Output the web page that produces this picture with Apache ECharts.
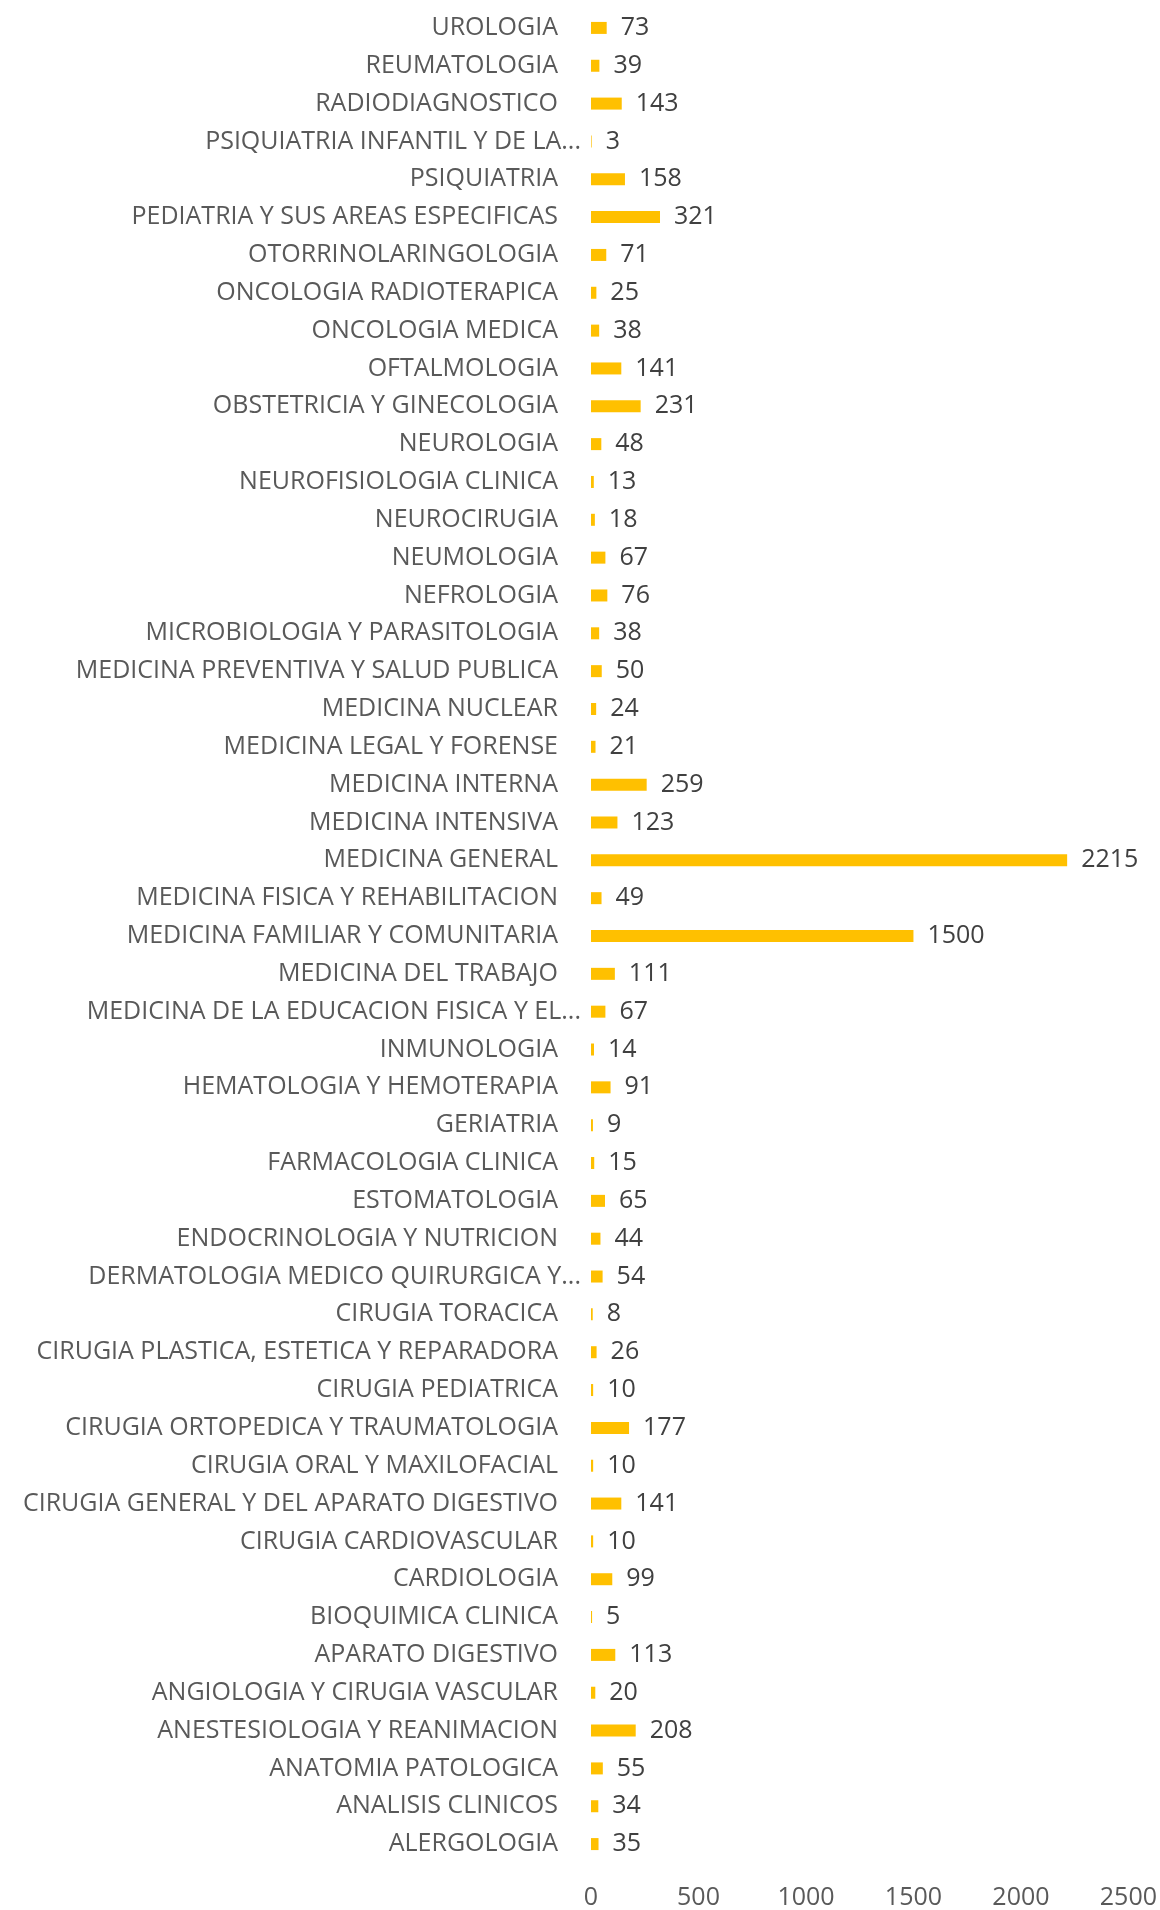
<!DOCTYPE html>
<html>
<head>
<meta charset="utf-8">
<script src="https://cdn.jsdelivr.net/npm/echarts@6/dist/echarts.min.js"></script>
<style>
  html, body { margin: 0; padding: 0; background: #fff; }
  #chart { width: 1160px; height: 1910px; }
</style>
</head>
<body>
<div id="chart"></div>
<script>
// categories listed bottom to top (category axis starts at the bottom)
var especialidades = [
  'ALERGOLOGIA', 'ANALISIS CLINICOS', 'ANATOMIA PATOLOGICA', 'ANESTESIOLOGIA Y REANIMACION',
  'ANGIOLOGIA Y CIRUGIA VASCULAR', 'APARATO DIGESTIVO', 'BIOQUIMICA CLINICA', 'CARDIOLOGIA',
  'CIRUGIA CARDIOVASCULAR', 'CIRUGIA GENERAL Y DEL APARATO DIGESTIVO', 'CIRUGIA ORAL Y MAXILOFACIAL',
  'CIRUGIA ORTOPEDICA Y TRAUMATOLOGIA', 'CIRUGIA PEDIATRICA', 'CIRUGIA PLASTICA, ESTETICA Y REPARADORA',
  'CIRUGIA TORACICA', 'DERMATOLOGIA MEDICO QUIRURGICA Y...', 'ENDOCRINOLOGIA Y NUTRICION',
  'ESTOMATOLOGIA', 'FARMACOLOGIA CLINICA', 'GERIATRIA', 'HEMATOLOGIA Y HEMOTERAPIA', 'INMUNOLOGIA',
  'MEDICINA DE LA EDUCACION FISICA Y EL...', 'MEDICINA DEL TRABAJO', 'MEDICINA FAMILIAR Y COMUNITARIA',
  'MEDICINA FISICA Y REHABILITACION', 'MEDICINA GENERAL', 'MEDICINA INTENSIVA', 'MEDICINA INTERNA',
  'MEDICINA LEGAL Y FORENSE', 'MEDICINA NUCLEAR', 'MEDICINA PREVENTIVA Y SALUD PUBLICA',
  'MICROBIOLOGIA Y PARASITOLOGIA', 'NEFROLOGIA', 'NEUMOLOGIA', 'NEUROCIRUGIA', 'NEUROFISIOLOGIA CLINICA',
  'NEUROLOGIA', 'OBSTETRICIA Y GINECOLOGIA', 'OFTALMOLOGIA', 'ONCOLOGIA MEDICA', 'ONCOLOGIA RADIOTERAPICA',
  'OTORRINOLARINGOLOGIA', 'PEDIATRIA Y SUS AREAS ESPECIFICAS', 'PSIQUIATRIA', 'PSIQUIATRIA INFANTIL Y DE LA...',
  'RADIODIAGNOSTICO', 'REUMATOLOGIA', 'UROLOGIA'
]
var totales = [
  35, 34, 55, 208,
  20, 113, 5, 99,
  10, 141, 10,
  177, 10, 26,
  8, 54, 44,
  65, 15, 9, 91, 14,
  67, 111, 1500,
  49, 2215, 123, 259,
  21, 24, 50,
  38, 76, 67, 18, 13,
  48, 231, 141, 38, 25,
  71, 321, 158, 3,
  143, 39, 73
]
var ejeX = { min: 0, max: 2500, interval: 500 }

// the cut-off names (ending in "...") sit closer to the bars, like Excel does
var categorias = especialidades.map(function(n) {
  if (n.slice(-3) === '...') {
    return { value: n, textStyle: { padding: [0, -23, 0, 0] } }
  }
  return n
})

var myChart = echarts.init(document.getElementById('chart'))
var option = {
  animation: false,
  grid: {
    left: 591,
    right: 24,
    top: 9,
    bottom: 46
  },
  xAxis: {
    type: 'value',
    min: ejeX.min,
    max: ejeX.max,
    interval: ejeX.interval,
    axisLine: { show: false },
    axisTick: { show: false },
    splitLine: { show: false },
    axisLabel: {
      color: '#595959',
      fontFamily: 'Open Sans',
      fontSize: 25,
      margin: 22,
      formatter: function(v) { return String(v) }
    }
  },
  yAxis: {
    type: 'category',
    data: categorias,
    axisLine: { show: false },
    axisTick: { show: false },
    axisLabel: {
      color: '#595959',
      fontFamily: 'Open Sans',
      fontSize: 25,
      margin: 33
    }
  },
  series: [{
    type: 'bar',
    data: totales,
    barWidth: 12,
    itemStyle: { color: '#FFC000' },
    label: {
      show: true,
      position: 'right',
      distance: 14,
      color: '#404040',
      fontFamily: 'Open Sans',
      fontSize: 25
    }
  }]
}
myChart.setOption(option)
</script>
</body>
</html>
